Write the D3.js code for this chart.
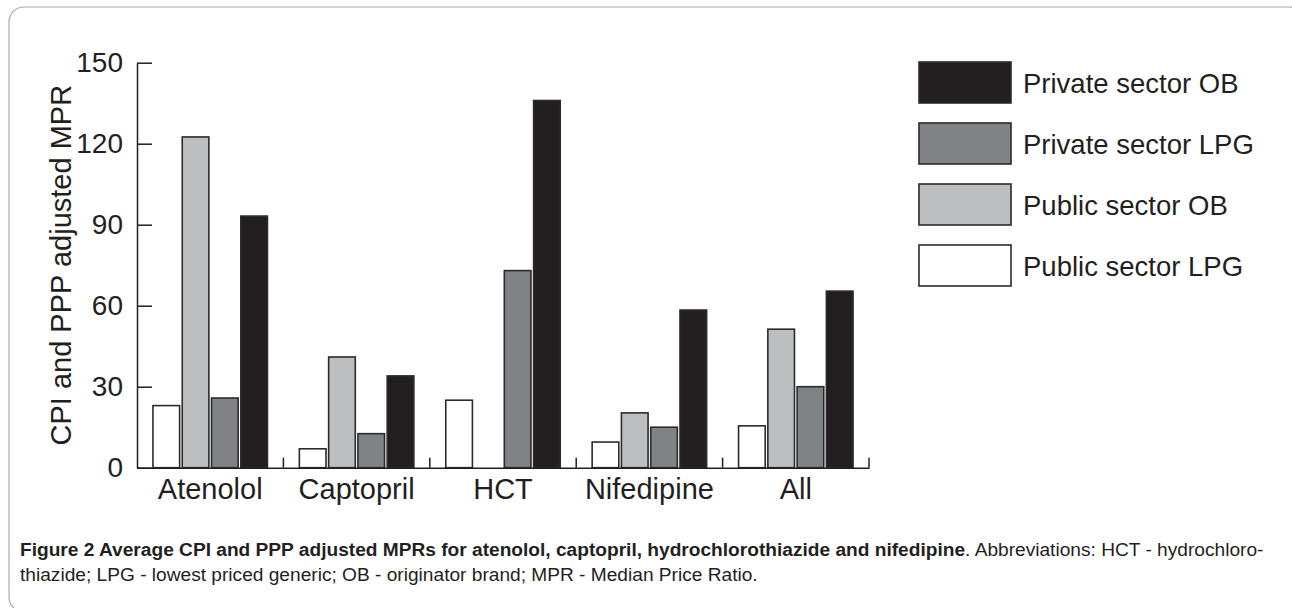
<!DOCTYPE html>
<html>
<head>
<meta charset="utf-8">
<script src="https://cdn.jsdelivr.net/npm/d3@7"></script>
<style>
body { margin: 0; background: #fff; }
text { fill: #231f20; font-family: "Liberation Sans", Arial, sans-serif; }
.caption { font-family: "Liberation Sans Narrow", "Liberation Sans", Arial, sans-serif; }
</style>
</head>
<body>
<div id="chart"></div>
<script>
const
svgWidth = 1292,
svgHeight = 608;

// data
const categories = ["Atenolol", "Captopril", "HCT", "Nifedipine", "All"];
const publicLPG = [23, 7, 25, 9.5, 15.5];
const publicOB = [122.5, 41, null, 20.3, 51.3];
const privateLPG = [25.8, 12.6, 73, 15, 30];
const privateOB = [93.2, 34, 136, 58.4, 65.4];
const seriesNames = ["Public sector LPG", "Public sector OB", "Private sector LPG", "Private sector OB"];
const seriesColors = ["#ffffff", "#bcbec0", "#808285", "#231f20"];
const yTicks = [0, 30, 60, 90, 120, 150];

const seriesValues = [publicLPG, publicOB, privateLPG, privateOB];

const plot = { left: 137, right: 869, top: 62.7, bottom: 467.7 };

const svg = d3.select("#chart")
.append("svg")
.attr("width", svgWidth)
.attr("height", svgHeight);

// frame
svg.append("rect")
.attr("x", 9)
.attr("y", 7)
.attr("width", 1295)
.attr("height", 605)
.attr("rx", 15)
.attr("fill", "none")
.attr("stroke", "#a7a9ac")
.attr("stroke-width", 1.2);

const x0 = d3.scaleBand()
.domain(categories)
.range([plot.left, plot.right]);

const x1 = d3.scaleBand()
.domain(seriesNames)
.range([0, x0.bandwidth()])
.paddingInner(0.09)
.paddingOuter(0.545);

const yScale = d3.scaleLinear()
.domain([0, 150])
.range([plot.bottom, plot.top]);

const color = d3.scaleOrdinal()
.domain(seriesNames)
.range(seriesColors);

// flatten into one row per bar
const rows = [];
categories.forEach((c, i) => {
    seriesNames.forEach((s, j) => {
        if (seriesValues[j][i] !== null) rows.push({ cat: c, series: s, value: seriesValues[j][i] });
    });
});

svg.append("g")
.selectAll("rect")
.data(rows)
.enter()
.append("rect")
.attr("x", d => x0(d.cat) + x1(d.series))
.attr("y", d => yScale(d.value))
.attr("width", x1.bandwidth())
.attr("height", d => yScale(0) - yScale(d.value))
.attr("fill", d => color(d.series))
.attr("stroke", "#2b2b2b")
.attr("stroke-width", 1.6);

// y axis, ticks point inward
const leftAxis = d3.axisLeft(yScale)
.tickValues(yTicks)
.tickSizeInner(-15)
.tickSizeOuter(0)
.tickPadding(14);

const yAxis = svg.append("g")
.attr("transform", `translate(${plot.left}, 0)`)
.call(leftAxis);

yAxis.selectAll("path, line").attr("stroke", "#231f20").attr("stroke-width", 1.5);
yAxis.selectAll("text")
.attr("font-size", 28)
.attr("font-family", "Liberation Sans, Arial, sans-serif")
.attr("fill", "#231f20");

// x axis
const bottomAxis = d3.axisBottom(x0)
.tickSize(0)
.tickPadding(11);

const xAxis = svg.append("g")
.attr("transform", `translate(0, ${plot.bottom})`)
.call(bottomAxis);

xAxis.select(".domain").attr("stroke", "#231f20").attr("stroke-width", 1.5);
xAxis.selectAll("text")
.attr("font-size", 29)
.attr("font-family", "Liberation Sans, Arial, sans-serif")
.attr("fill", "#231f20");

// small separators between groups
xAxis.selectAll(".sep")
.data(categories)
.enter()
.append("line")
.attr("class", "sep")
.attr("x1", d => x0(d) + x0.bandwidth())
.attr("x2", d => x0(d) + x0.bandwidth())
.attr("y1", 0)
.attr("y2", -10)
.attr("stroke", "#231f20")
.attr("stroke-width", 1.5);

// y title
svg.append("text")
.attr("transform", "rotate(-90)")
.attr("x", -(plot.top + plot.bottom) / 2)
.attr("y", 71)
.attr("text-anchor", "middle")
.attr("font-size", 29)
.text("CPI and PPP adjusted MPR");

// legend, top entry is the last series
const legend = svg.append("g")
.attr("transform", "translate(919, 62)");

const legendItems = legend.selectAll("g")
.data(seriesNames.slice().reverse())
.enter()
.append("g")
.attr("transform", (d, i) => `translate(0, ${i * 61})`);

legendItems.append("rect")
.attr("width", 92)
.attr("height", 41)
.attr("fill", d => color(d))
.attr("stroke", "#2b2b2b")
.attr("stroke-width", 1.6);

legendItems.append("text")
.attr("x", 104)
.attr("y", 30.5)
.attr("font-size", 27.5)
.text(d => d);

// caption
const cap1 = svg.append("text")
.attr("class", "caption")
.attr("x", 20)
.attr("y", 556)
.attr("font-size", 19);

cap1.append("tspan")
.attr("font-weight", "bold")
.text("Figure 2 Average CPI and PPP adjusted MPRs for atenolol, captopril, hydrochlorothiazide and nifedipine");
cap1.append("tspan")
.text(". Abbreviations: HCT - hydrochloro-");

const cap2 = svg.append("text")
.attr("class", "caption")
.attr("x", 20)
.attr("y", 581)
.attr("font-size", 19)
.text("thiazide; LPG - lowest priced generic; OB - originator brand; MPR - Median Price Ratio.");

// fit the first caption line to the width it has in the figure
const capLen = cap1.node().getComputedTextLength();
const capSize = 19 * 1245 / capLen;
cap1.attr("font-size", capSize);
cap2.attr("font-size", capSize);
</script>
</body>
</html>
